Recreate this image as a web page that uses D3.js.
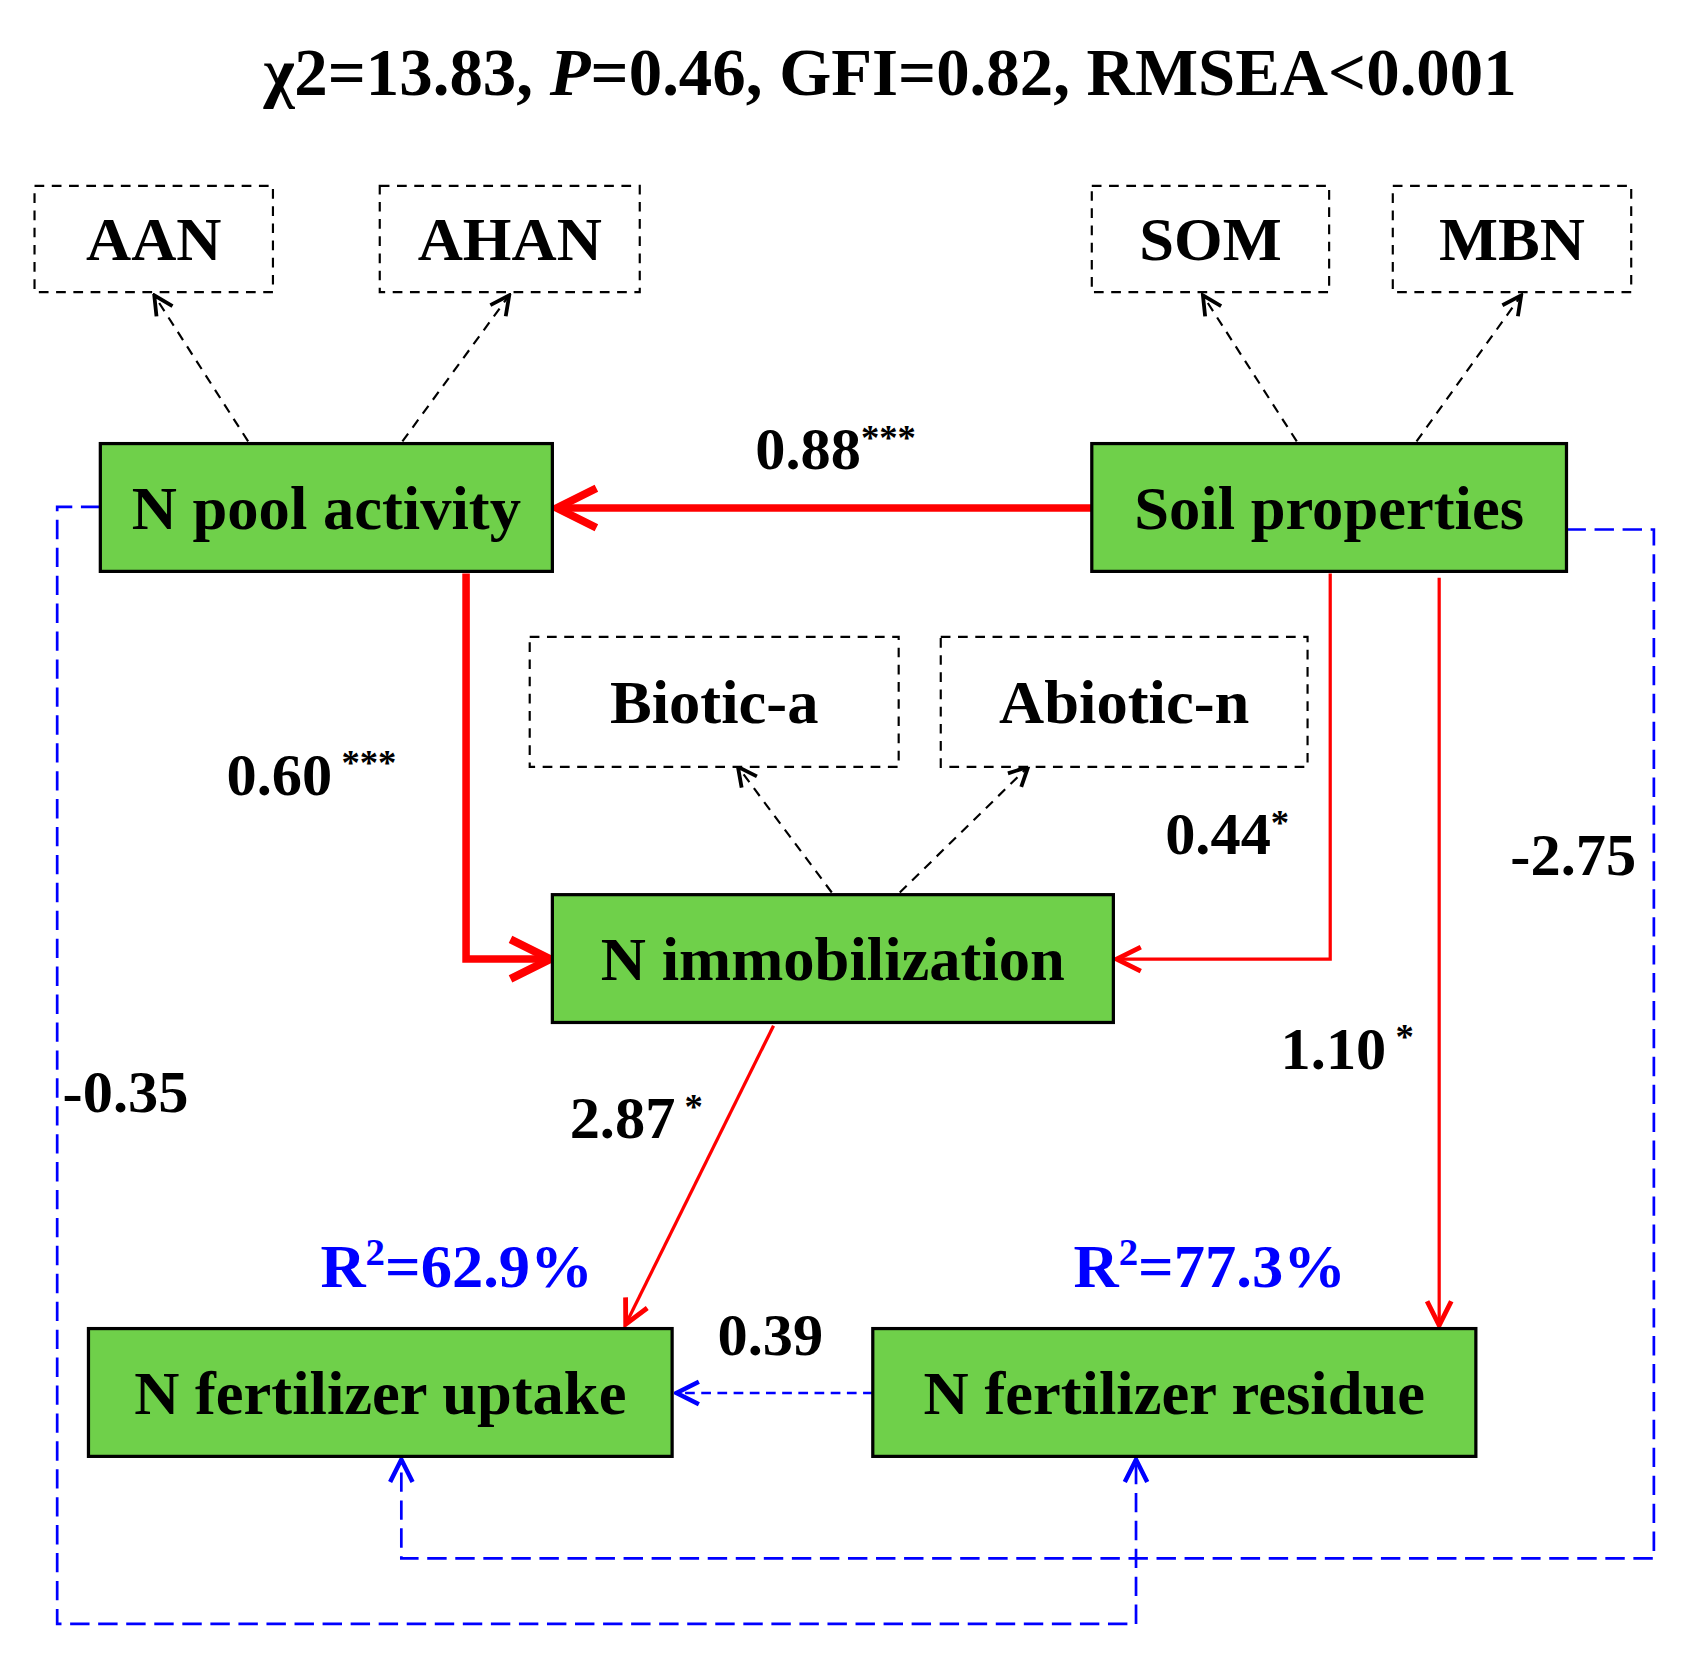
<!DOCTYPE html>
<html><head><meta charset="utf-8">
<script src="https://cdn.jsdelivr.net/npm/d3@7"></script>
<style>body{margin:0;background:#fff}</style>
</head><body>
<svg id="c"></svg>
<script>
// node names and whether they are observed (green) or indicator (dashed) boxes
var nodeNames = ["AAN","AHAN","SOM","MBN","N pool activity","Soil properties","Biotic-a","Abiotic-n","N immobilization","N fertilizer uptake","N fertilizer residue"];
var nodeKinds = ["ind","ind","ind","ind","main","main","ind","ind","main","main","main"];
// layout [x0,y0,x1,y1]
var nodeBox = [[32,173,253,272],[352,173,593,272],[1012,173,1232,272],[1291,173,1512,272],
  [93,413,512,532],[1012,413,1452,532],[491,593,833,714],[872,593,1212,714],
  [512,833,1032,952],[82,1237,623,1356],[809,1237,1368,1356]];
// path coefficients
var coefText = ["0.88","0.60","0.44","1.10","2.87","0.39","-0.35","-2.75"];
var coefStars = ["***"," ***","*"," *"," *","","",""];
var coefPos = [[700,437],[210,740],[1080,795],[1187,995],[528,1060],[665,1262],[58,1035],[1400,815]];
var r2Text = ["62.9%","77.3%"];
var r2Pos = [[297,1198],[995,1198]];

var svg = d3.select("#c").attr("width",1683).attr("height",1654)
  .attr("viewBox","0 0 1560 1540").attr("preserveAspectRatio","none");
var font = "'Liberation Serif','Times New Roman',serif";

function marker(id,color,w){
  svg.append("defs").append("marker").attr("id",id).attr("viewBox","0 0 10 10")
    .attr("refX",9).attr("refY",5).attr("markerWidth",w).attr("markerHeight",w)
    .attr("markerUnits","userSpaceOnUse").attr("orient","auto")
    .append("path").attr("d","M1,1 L9,5 L1,9").attr("fill","none")
    .attr("stroke",color).attr("stroke-width",1.6);
}
marker("mk","#000",22); marker("mr","#f00",28); marker("mrb","#f00",46); marker("mb","#00f",26);

// title
var t = svg.append("text").attr("x",825).attr("y",88).attr("text-anchor","middle")
  .attr("font-family",font).attr("font-weight","bold").attr("font-size",62);
t.append("tspan").text("χ2=13.83, ");
t.append("tspan").attr("font-style","italic").text("P");
t.append("tspan").text("=0.46, GFI=0.82, RMSEA<0.001");

var line = d3.line();
function path(pts,color,w,dash,mk){
  svg.append("path").attr("d",line(pts)).attr("fill","none").attr("stroke",color)
    .attr("stroke-width",w).attr("stroke-dasharray",dash||null)
    .attr("marker-end",mk?"url(#"+mk+")":null);
}
// indicator arrows
[[[230,411],[143,275]],[[373,411],[472,275]],[[1202,411],[1115,275]],[[1313,411],[1410,275]],
 [[771,831],[684,714]],[[834,831],[953,714]]].forEach(function(p){path(p,"#000",2,"9,7","mk");});
// red paths
path([[1012,473],[516,473]],"#f00",7,null,"mrb");
path([[432,534],[432,893],[510,893]],"#f00",7,null,"mrb");
path([[1233,534],[1233,893],[1035,893]],"#f00",3,null,"mr");
path([[1334,538],[1334,1234]],"#f00",3,null,"mr");
path([[717,955],[580,1233]],"#f00",3,null,"mr");
// blue dashed
path([[809,1297],[627,1297]],"#00f",2.5,"9,6","mb");
path([[93,472],[53,472],[53,1512],[1053,1512],[1053,1359]],"#00f",2.5,"18,8","mb");
path([[1452,493],[1533,493],[1533,1451],[372,1451],[372,1359]],"#00f",2.5,"18,8","mb");

// boxes
var g = svg.selectAll("g.n").data(nodeNames).enter().append("g");
g.append("rect")
  .attr("x",function(d,i){return nodeBox[i][0];}).attr("y",function(d,i){return nodeBox[i][1];})
  .attr("width",function(d,i){return nodeBox[i][2]-nodeBox[i][0];})
  .attr("height",function(d,i){return nodeBox[i][3]-nodeBox[i][1];})
  .attr("fill",function(d,i){return nodeKinds[i]=="main"?"#6fd04a":"#fff";})
  .attr("stroke","#000").attr("stroke-width",function(d,i){return nodeKinds[i]=="main"?3:2;})
  .attr("stroke-dasharray",function(d,i){return nodeKinds[i]=="main"?null:"9,7";});
g.append("text")
  .attr("x",function(d,i){return (nodeBox[i][0]+nodeBox[i][2])/2;})
  .attr("y",function(d,i){return (nodeBox[i][1]+nodeBox[i][3])/2+20;})
  .attr("text-anchor","middle").attr("font-family",font).attr("font-weight","bold")
  .attr("font-size",58).text(function(d){return d;});

// coefficients
coefText.forEach(function(c,i){
  var tx = svg.append("text").attr("x",coefPos[i][0]).attr("y",coefPos[i][1])
    .attr("font-family",font).attr("font-weight","bold").attr("font-size",56);
  tx.append("tspan").text(c);
  if(coefStars[i]) tx.append("tspan").attr("font-size",34).attr("dy",-18).text(coefStars[i]);
});
r2Text.forEach(function(r,i){
  var tx = svg.append("text").attr("x",r2Pos[i][0]).attr("y",r2Pos[i][1]).attr("fill","#00f")
    .attr("font-family",font).attr("font-weight","bold").attr("font-size",58);
  tx.append("tspan").text("R");
  tx.append("tspan").attr("font-size",36).attr("dy",-20).text("2");
  tx.append("tspan").attr("dy",20).text("="+r);
});
</script>
</body></html>
